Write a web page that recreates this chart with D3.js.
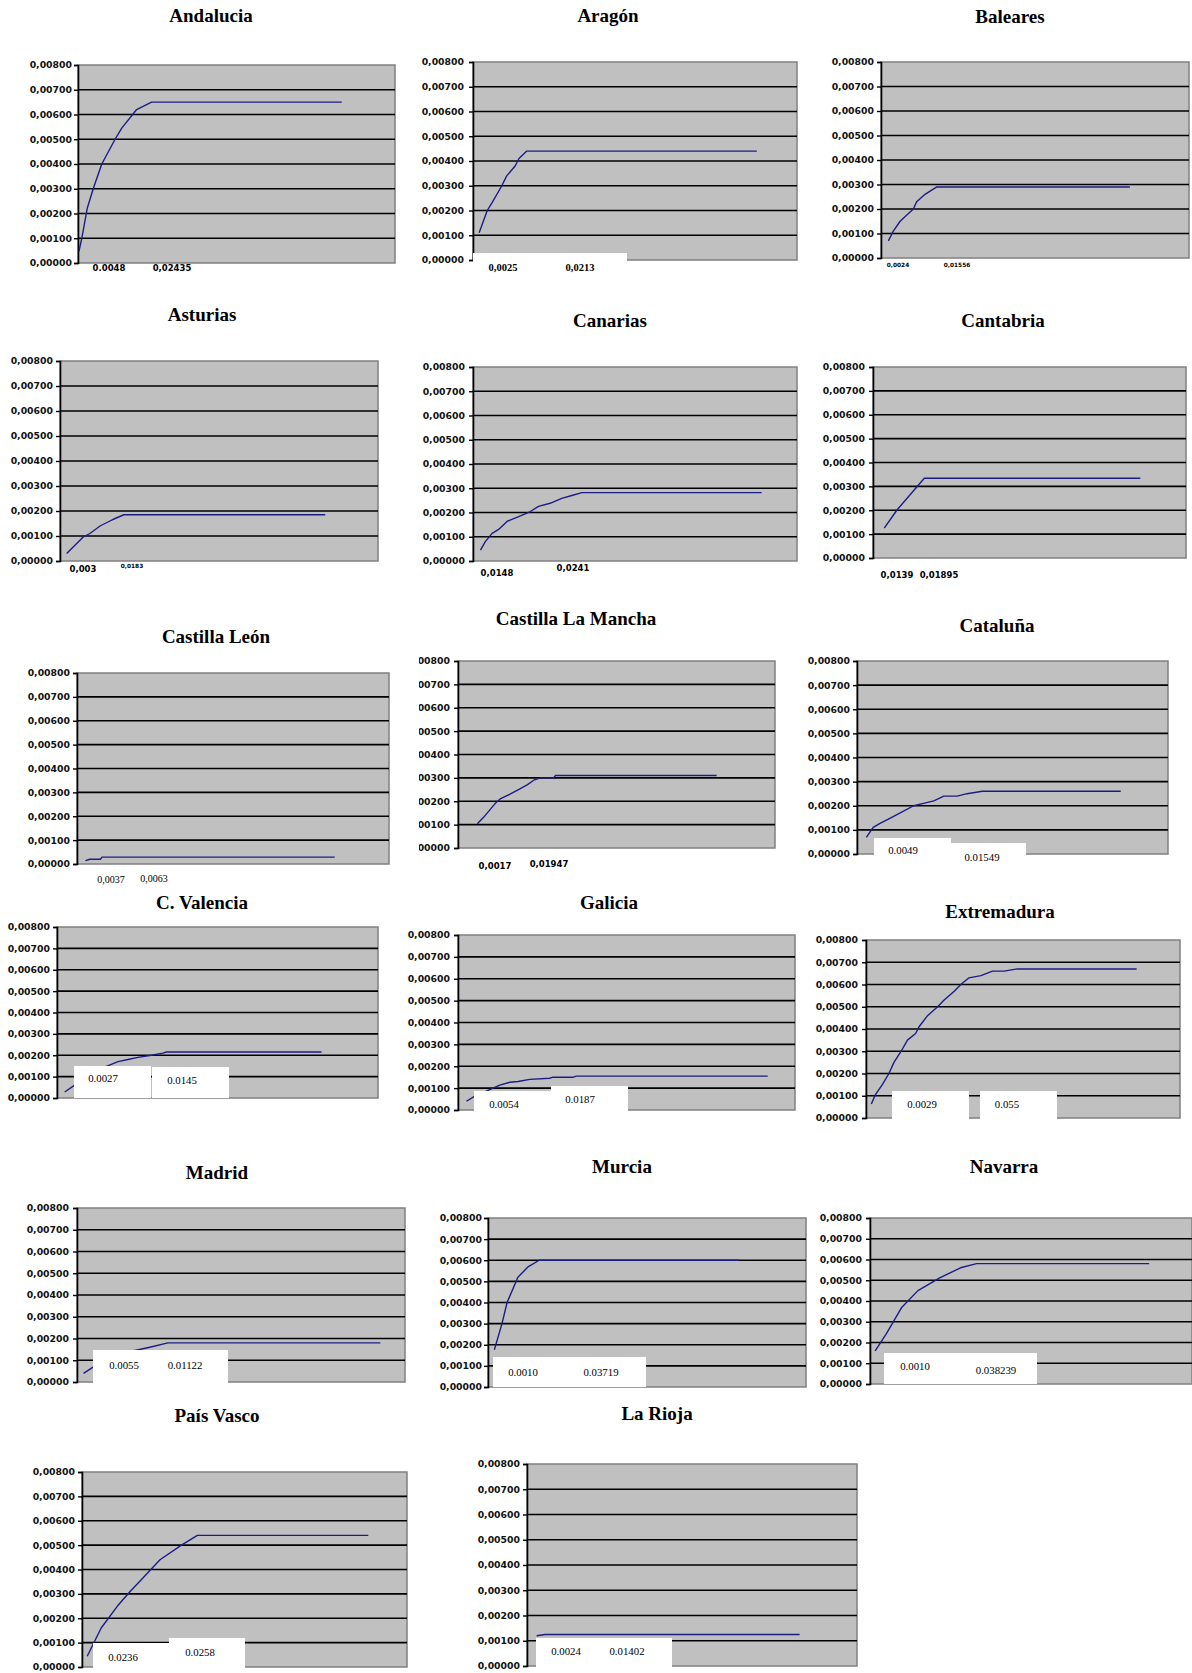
<!DOCTYPE html>
<html>
<head>
<meta charset="utf-8">
<script src="https://cdn.jsdelivr.net/npm/d3@7"></script>
<style>
  html, body { margin: 0; padding: 0; background: #fff; }
  svg { display: block; }
</style>
</head>
<body>
<svg id="chart" width="1192" height="1673"></svg>
<script>
// Regions, one small chart each
const regions = ["Andalucia", "Aragón", "Baleares", "Asturias", "Canarias", "Cantabria",
  "Castilla León", "Castilla La Mancha", "Cataluña", "C. Valencia", "Galicia", "Extremadura",
  "Madrid", "Murcia", "Navarra", "País Vasco", "La Rioja"];

// Value axis ticks shared by every chart
const yTicks = [0, 0.001, 0.002, 0.003, 0.004, 0.005, 0.006, 0.007, 0.008];

// Observation index (0-100 along the category axis) of every curve point
const curveX = [
  [0.3, 1.2, 2.9, 4.8, 7.5, 11.7, 13.8, 18.5, 23.2, 83.2],
  [1.9, 4.4, 5.8, 8.9, 10.4, 13, 14.2, 16.6, 87.6],
  [2.4, 4, 6.2, 10.5, 11.6, 14.3, 18.1, 80.8],
  [2.1, 7.3, 9.4, 12.6, 15.7, 17.3, 20.1, 83.4],
  [2.3, 3.8, 5.9, 7.9, 10.5, 12, 14.1, 17.7, 20.2, 23.8, 27.4, 30.5, 33.6, 89.1],
  [3.6, 7.6, 13.5, 16.4, 85.4],
  [2.7, 4.1, 7.5, 8.0, 82.6],
  [6.1, 8.0, 11.7, 13.3, 16.4, 19.1, 21.8, 23.9, 26.0, 30.2, 30.7, 81.6],
  [3.0, 5.2, 7.4, 10.1, 13.9, 18.2, 21.4, 24.7, 27.9, 32.2, 35.4, 40.3, 84.8],
  [2.4, 5.5, 9.2, 12.3, 15.4, 19.0, 22.1, 25.2, 29.4, 33.0, 34.1, 82.4],
  [2.5, 5.0, 9.4, 12.4, 15.4, 17.8, 21.3, 27.2, 28.2, 34.2, 35.1, 91.9],
  [1.7, 3.0, 5.2, 7.3, 8.9, 11.6, 13.2, 15.8, 16.9, 19.6, 22.8, 24.9, 28.1, 30.2, 32.8, 36.6, 40.3, 44.0, 48.2, 86.2],
  [2.0, 7.1, 13.1, 22.2, 27.7, 92.5],
  [2.0, 4.4, 6.0, 9.4, 12.7, 16.1, 78.9],
  [1.6, 5.0, 9.9, 14.9, 21.5, 28.1, 33.1, 86.7],
  [1.6, 5.9, 10.9, 14.8, 19.1, 24.0, 30.6, 35.5, 88.1],
  [2.9, 5.5, 82.6]
];

// Cumulative value at each point
const curveY = [
  [0.00047, 0.001, 0.0022, 0.003, 0.004, 0.005, 0.00545, 0.0062, 0.0065, 0.0065],
  [0.0011, 0.002, 0.0023, 0.003, 0.0034, 0.0038, 0.0041, 0.0044, 0.0044],
  [0.0007, 0.0011, 0.0015, 0.002, 0.0023, 0.0026, 0.0029, 0.0029],
  [0.0003, 0.00096, 0.0011, 0.0014, 0.0016, 0.0017, 0.00185, 0.00185],
  [0.00045, 0.0008, 0.00114, 0.0013, 0.00163, 0.00172, 0.00183, 0.00204, 0.00225, 0.00238, 0.00258, 0.0027, 0.00282, 0.00282],
  [0.00125, 0.002, 0.0029, 0.00334, 0.00334],
  [0.00014, 0.0002, 0.0002, 0.00029, 0.00029],
  [0.00104, 0.0013, 0.0019, 0.0021, 0.0023, 0.0025, 0.0027, 0.0029, 0.003, 0.003, 0.0031, 0.0031],
  [0.00069, 0.0011, 0.00127, 0.00145, 0.0017, 0.002, 0.0021, 0.0022, 0.0024, 0.0024, 0.0025, 0.0026, 0.0026],
  [0.00028, 0.0006, 0.001, 0.00128, 0.00148, 0.0017, 0.0018, 0.0019, 0.002, 0.0021, 0.00215, 0.00215],
  [0.0004, 0.00063, 0.00093, 0.00114, 0.00127, 0.0013, 0.0014, 0.00145, 0.0015, 0.0015, 0.00155, 0.00155],
  [0.00063, 0.00105, 0.0015, 0.002, 0.0025, 0.0031, 0.0035, 0.0038, 0.0041, 0.0046, 0.005, 0.0053, 0.0057, 0.006, 0.0063, 0.0064, 0.0066, 0.0066, 0.0067, 0.0067],
  [0.0004, 0.0009, 0.0013, 0.0016, 0.0018, 0.0018],
  [0.00176, 0.003, 0.004, 0.0052, 0.0057, 0.006, 0.006],
  [0.0016, 0.0024, 0.0037, 0.0045, 0.0051, 0.0056, 0.0058, 0.0058],
  [0.00044, 0.0016, 0.0025, 0.0031, 0.0037, 0.0044, 0.005, 0.0054, 0.0054],
  [0.0012, 0.00125, 0.00125]
];

// Threshold labels written under each curve
const cutLabels = [
  ["0.0048", "0,02435"], ["0,0025", "0,0213"], ["0,0024", "0,01556"],
  ["0,003", "0,0183"], ["0,0148", "0,0241"], ["0,0139", "0,01895"],
  ["0,0037", "0,0063"], ["0,0017", "0,01947"], ["0.0049", "0.01549"],
  ["0.0027", "0.0145"], ["0.0054", "0.0187"], ["0.0029", "0.055"],
  ["0.0055", "0.01122"], ["0.0010", "0.03719"], ["0.0010", "0.038239"],
  ["0.0236", "0.0258"], ["0.0024", "0.01402"]
];

// ---- layout: plot rectangle [left, top, right, bottom] of each chart ----
const plotRects = [
  [78, 65, 395, 263], [473, 62, 797, 260], [881, 62, 1189, 258],
  [60, 361, 378, 561], [473, 367, 797, 561], [873, 367, 1186, 558],
  [77, 673, 389, 864], [458, 661, 775, 848], [857, 661, 1168, 854],
  [57, 927, 378, 1098], [458, 935, 795, 1110], [866, 940, 1180, 1118],
  [77, 1208, 405, 1382], [488, 1218, 806, 1387], [870, 1218, 1192, 1384],
  [82, 1472, 407, 1667], [527, 1464, 857, 1666]
];
const titlePos = [
  [211, 22], [608, 22], [1010, 23], [202, 321], [610, 327], [1003, 327],
  [216, 643], [576, 625], [997, 632], [202, 909], [609, 909], [1000, 918],
  [217, 1179], [622, 1173], [1004, 1173], [217, 1422], [657, 1420]
];
const yLabelEdge = [72, 464, 874, 53, 465, 865, 70, 450, 850, 50, 450, 858, 69, 482, 862, 75, 520];
const labelPos = [
  [[109, 271], [172, 271]], [[503, 271], [580, 271]], [[898, 267], [957, 267]],
  [[83, 572], [132, 568]], [[497, 576], [573, 571]], [[897, 578], [939, 578]],
  [[111, 883], [154, 882]], [[495, 869], [549, 867]], [[903, 854], [982, 861]],
  [[103, 1082], [182, 1084]], [[504, 1108], [580, 1103]], [[922, 1108], [1007, 1108]],
  [[124, 1369], [185, 1369]], [[523, 1376], [601, 1376]], [[915, 1370], [996, 1374]],
  [[123, 1661], [200, 1656]], [[566, 1655], [627, 1655]]
];
const labelStyle = [
  ["sans", "sans"], ["serifBold", "serifBold"], ["tiny", "tiny"],
  ["sans", "tiny"], ["sans", "sans"], ["sans", "sans"],
  ["serif", "serif"], ["sans", "sans"], ["box", "box"],
  ["box", "box"], ["box", "box"], ["box", "box"],
  ["box", "box"], ["box", "box"], ["box", "box"],
  ["box", "box"], ["box", "box"]
];
// white label patches [x0, y0, x1, y1]
const patches = [
  [], [[473, 253, 627, 262]], [], [], [], [], [], [],
  [[874, 838, 951, 857], [951, 843, 1026, 859]],
  [[74, 1066, 151, 1098], [152, 1067, 229, 1098]],
  [[474, 1091, 551, 1112], [551, 1086, 628, 1112]],
  [[892, 1091, 969, 1120], [980, 1091, 1057, 1120]],
  [[93, 1350, 169, 1384], [169, 1350, 228, 1384]],
  [[493, 1357, 569, 1387], [569, 1357, 646, 1387]],
  [[884, 1353, 960, 1384], [960, 1353, 1037, 1384]],
  [[93, 1643, 169, 1673], [169, 1638, 245, 1673]],
  [[536, 1638, 594, 1668], [594, 1638, 672, 1668]]
];
// charts whose left edge is trimmed
const trimLeft = { 7: 419 };

const fonts = {
  sans: { family: "'DejaVu Sans', sans-serif", size: 8.5, weight: "bold" },
  tiny: { family: "'DejaVu Sans', sans-serif", size: 5.8, weight: "bold" },
  serifBold: { family: "'Liberation Serif', serif", size: 10.5, weight: "bold" },
  serif: { family: "'Liberation Serif', serif", size: 10, weight: "normal" },
  box: { family: "'Liberation Serif', serif", size: 10.8, weight: "normal" }
};

const svg = d3.select("#chart");
const defs = svg.append("defs");
const fmt = v => d3.format(".5f")(v).replace(".", ",");

regions.forEach((name, i) => {
  const [l, t, r, b] = plotRects[i];
  const g = svg.append("g");
  if (trimLeft[i] !== undefined) {
    defs.append("clipPath").attr("id", "trim" + i)
      .attr("clipPathUnits", "userSpaceOnUse")
      .append("rect").attr("x", trimLeft[i]).attr("y", 0).attr("width", 1192).attr("height", 1673);
    g.attr("clip-path", `url(#trim${i})`);
  }

  const x = d3.scaleLinear().domain([0, 100]).range([l, r]);
  const y = d3.scaleLinear().domain([0, 0.008]).range([b, t]);

  // plot area
  g.append("rect").attr("x", l).attr("y", t).attr("width", r - l).attr("height", b - t)
    .attr("fill", "#c0c0c0").attr("stroke", "#808080").attr("stroke-width", 1.5);

  // horizontal gridlines
  g.append("g").selectAll("line").data(yTicks.filter(v => v > 0 && v < 0.008)).join("line")
    .attr("x1", l).attr("x2", r).attr("y1", d => y(d)).attr("y2", d => y(d))
    .attr("stroke", "#000").attr("stroke-width", 1.6);

  // value axis
  const axis = d3.axisLeft(y).tickValues(yTicks).tickFormat(fmt)
    .tickSize(4).tickPadding(l - yLabelEdge[i] - 4);
  const ag = g.append("g").attr("transform", `translate(${l},0)`).call(axis);
  ag.select(".domain").attr("stroke", "#000").attr("stroke-width", 1.6);
  ag.selectAll(".tick line").attr("stroke", "#000").attr("stroke-width", 1.4);
  ag.selectAll(".tick text")
    .attr("font-family", "'DejaVu Sans', sans-serif").attr("font-size", 9.3)
    .attr("font-weight", "bold").attr("fill", "#111");

  // curve
  const pts = curveX[i].map((v, k) => [v, curveY[i][k]]);
  g.append("path").datum(pts)
    .attr("d", d3.line().x(d => x(d[0])).y(d => y(d[1])))
    .attr("fill", "none").attr("stroke", "#1c1c86").attr("stroke-width", 1.4)
    .attr("stroke-linejoin", "round");

  // white label patches
  g.append("g").selectAll("rect").data(patches[i]).join("rect")
    .attr("x", d => d[0]).attr("y", d => d[1])
    .attr("width", d => d[2] - d[0]).attr("height", d => d[3] - d[1])
    .attr("fill", "#fff");

  // threshold labels
  cutLabels[i].forEach((txt, k) => {
    const f = fonts[labelStyle[i][k]];
    g.append("text").attr("x", labelPos[i][k][0]).attr("y", labelPos[i][k][1])
      .attr("text-anchor", "middle")
      .attr("font-family", f.family).attr("font-size", f.size).attr("font-weight", f.weight)
      .attr("fill", "#000").text(txt);
  });

  // title
  g.append("text").attr("x", titlePos[i][0]).attr("y", titlePos[i][1])
    .attr("text-anchor", "middle")
    .attr("font-family", "'Liberation Serif', 'Times New Roman', serif")
    .attr("font-size", 19).attr("font-weight", "bold").attr("fill", "#000")
    .text(name);
});
</script>
</body>
</html>
